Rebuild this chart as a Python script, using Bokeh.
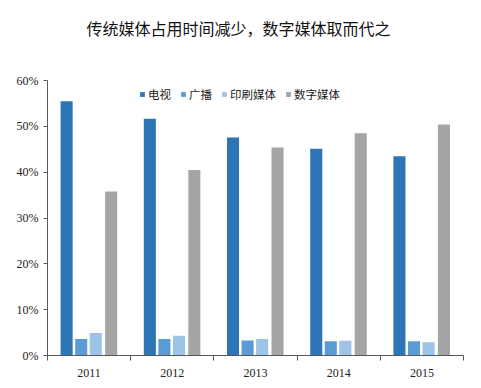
import numpy as np
from bokeh.plotting import figure
from bokeh.models import (ColumnDataSource, FixedTicker, Range1d, Legend, LegendItem, Label)
from bokeh.embed import file_html
from bokeh.resources import INLINE

years = ["2011", "2012", "2013", "2014", "2015"]
series = ["电视", "广播", "印刷媒体", "数字媒体"]
tv = [55.5, 51.7, 47.6, 45.1, 43.5]
radio = [3.6, 3.6, 3.3, 3.1, 3.1]
printed = [4.9, 4.3, 3.6, 3.2, 2.9]
digital = [35.8, 40.5, 45.4, 48.5, 50.4]
colors = ["#2E75B6", "#5B9BD5", "#9DC3E6", "#A5A5A5"]
title_text = "传统媒体占用时间减少，数字媒体取而代之"
y_ticks = [0, 10, 20, 30, 40, 50, 60]

values = [tv, radio, printed, digital]
offsets = [-0.27, -0.095, 0.08, 0.265]
bar_w = 0.145

# frame extends above 60% so the title can sit inside it; the axis line stops at 60%
p = figure(width=476, height=382, output_backend="svg", toolbar_location=None,
           x_range=Range1d(0, 5), y_range=Range1d(0, 75.3),
           min_border_left=47, min_border_right=13, min_border_top=10, min_border_bottom=27)
p.outline_line_color = None
p.xgrid.grid_line_color = None
p.ygrid.grid_line_color = None

centers = np.arange(len(years)) + 0.5
items = []
for name, vals, col, off in zip(series, values, colors, offsets):
    src = ColumnDataSource(dict(x=centers + off, top=vals))
    r = p.vbar(x="x", top="top", width=bar_w, bottom=0, source=src,
               fill_color=col, line_color=None)
    items.append(LegendItem(label=name, renderers=[r]))

# axes
p.xaxis.ticker = FixedTicker(ticks=list(centers), minor_ticks=list(range(len(years) + 1)))
p.xaxis.major_label_overrides = {float(c): y for c, y in zip(centers, years)}
p.xaxis.major_tick_line_color = None
p.xaxis.minor_tick_out = 5
p.xaxis.minor_tick_in = 0
p.xaxis.minor_tick_line_color = "#595959"
p.xaxis.axis_line_color = "#595959"
p.xaxis.major_label_text_font = "Liberation Serif"
p.xaxis.major_label_text_font_size = "12px"
p.xaxis.major_label_text_color = "#222222"
p.xaxis.major_label_standoff = 7

p.yaxis.ticker = FixedTicker(ticks=y_ticks)
p.yaxis.bounds = (y_ticks[0], y_ticks[-1])
p.yaxis.major_label_overrides = {t: f"{t}%" for t in y_ticks}
p.yaxis.minor_tick_line_color = None
p.yaxis.major_tick_in = 0
p.yaxis.major_tick_out = 4
p.yaxis.major_tick_line_color = "#595959"
p.yaxis.axis_line_color = "#595959"
p.yaxis.major_label_text_font = "Liberation Serif"
p.yaxis.major_label_text_font_size = "12px"
p.yaxis.major_label_text_color = "#222222"
p.yaxis.major_label_standoff = 5

legend = Legend(items=items, orientation="horizontal", location=(92, 253),
                glyph_width=6, glyph_height=6, label_standoff=3, spacing=9,
                label_text_font="Noto Sans CJK SC", label_text_font_size="11.5px",
                label_text_color="#222222", background_fill_alpha=0,
                border_line_color=None, padding=2, margin=0)
p.add_layout(legend, "center")

p.add_layout(Label(x=191, y=328, x_units="screen", y_units="screen", text=title_text,
                   text_align="center", text_baseline="middle",
                   text_font="Noto Sans CJK SC", text_font_size="16px",
                   text_color="#111111"))

open("out.html", "w").write(file_html(p, INLINE))
